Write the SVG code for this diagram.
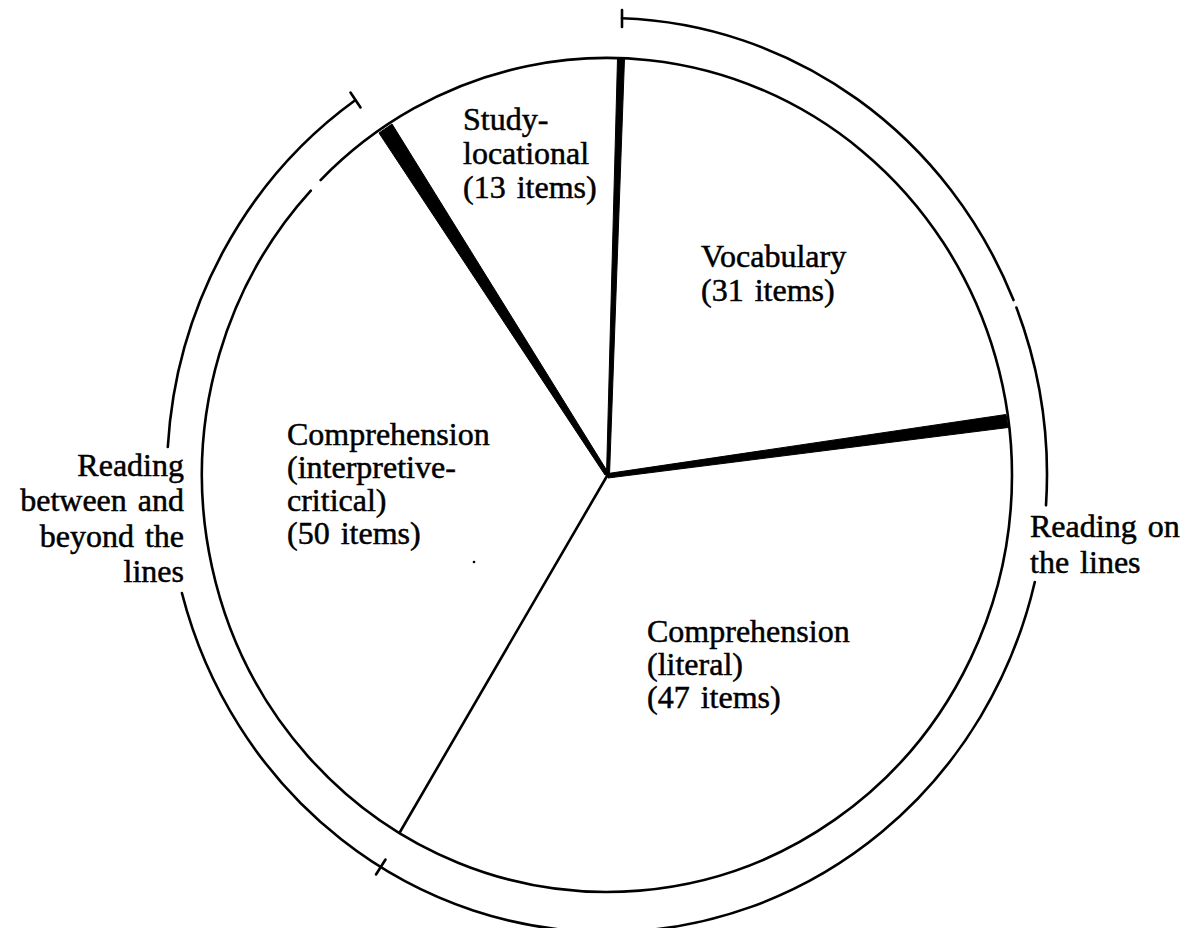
<svg xmlns="http://www.w3.org/2000/svg" width="1194" height="928" viewBox="0 0 1194 928">
<style>
.ln{fill:none;stroke:#000;stroke-width:2.6;stroke-linecap:round}
.wd{fill:#000;stroke:#000;stroke-width:1;stroke-linejoin:round}
.t{font-family:"Liberation Serif","Times New Roman",serif;font-size:32px;fill:#000;stroke:#000;stroke-width:0.5;word-spacing:3px}
.r{text-anchor:end}
</style>
<rect width="1194" height="928" fill="#fff"/>
<g id="pie-outline">
<path class="ln" d="M 320.6 180.1 A 405 417 0 0 1 1012 475 A 405 417 0 1 1 310.8 190.6"/>
</g>
<g id="connectors">
<polygon class="wd" points="617.5,58.5 624.5,58.5 609.5,475 606.5,475"/>
<polygon class="wd" points="608,473.5 1006,414.5 1008,427.5 608,478"/>
<polygon class="wd" points="379,133 392,124 609,474 605,475"/>
<line class="ln" x1="607" y1="476" x2="400" y2="832"/>
</g>
<g id="bracket-on-the-lines">
<line class="ln" x1="622" y1="10" x2="622" y2="27"/>
<path class="ln" d="M 622 18.3 A 440 457 0 0 1 1013.5 300.1"/>
<path class="ln" d="M 1016.4 307.5 A 440 457 0 0 1 1046 505.3"/>
<path class="ln" d="M 1034.8 582 A 440 457 0 0 1 181.9 593"/>
<line class="ln" x1="376" y1="874.5" x2="385.5" y2="859.5"/>
</g>
<g id="bracket-between-beyond">
<path class="ln" d="M 167.8 447 A 440 457 0 0 1 355.5 100"/>
<line class="ln" x1="350.5" y1="92.5" x2="360.5" y2="107.5"/>
</g>
<g id="slice-study">
<text class="t" x="463" y="130">Study-</text>
<text class="t" x="463" y="164">locational</text>
<text class="t" x="463" y="198">(13 items)</text>
</g>
<g id="slice-vocabulary">
<text class="t" x="701" y="267">Vocabulary</text>
<text class="t" x="701" y="301">(31 items)</text>
</g>
<g id="slice-interpretive">
<text class="t" x="287" y="445">Comprehension</text>
<text class="t" x="287" y="478">(interpretive-</text>
<text class="t" x="287" y="511">critical)</text>
<text class="t" x="287" y="544">(50 items)</text>
</g>
<g id="slice-literal">
<text class="t" x="647" y="642">Comprehension</text>
<text class="t" x="647" y="675">(literal)</text>
<text class="t" x="647" y="708">(47 items)</text>
</g>
<g id="label-between-beyond">
<text class="t r" x="184" y="476">Reading</text>
<text class="t r" x="184" y="511">between and</text>
<text class="t r" x="184" y="547">beyond the</text>
<text class="t r" x="184" y="582">lines</text>
</g>
<g id="label-on-the-lines">
<text class="t" x="1030" y="537">Reading on</text>
<text class="t" x="1030" y="573">the lines</text>
</g>
<circle cx="474" cy="562" r="1.3" fill="#000"/>
</svg>
